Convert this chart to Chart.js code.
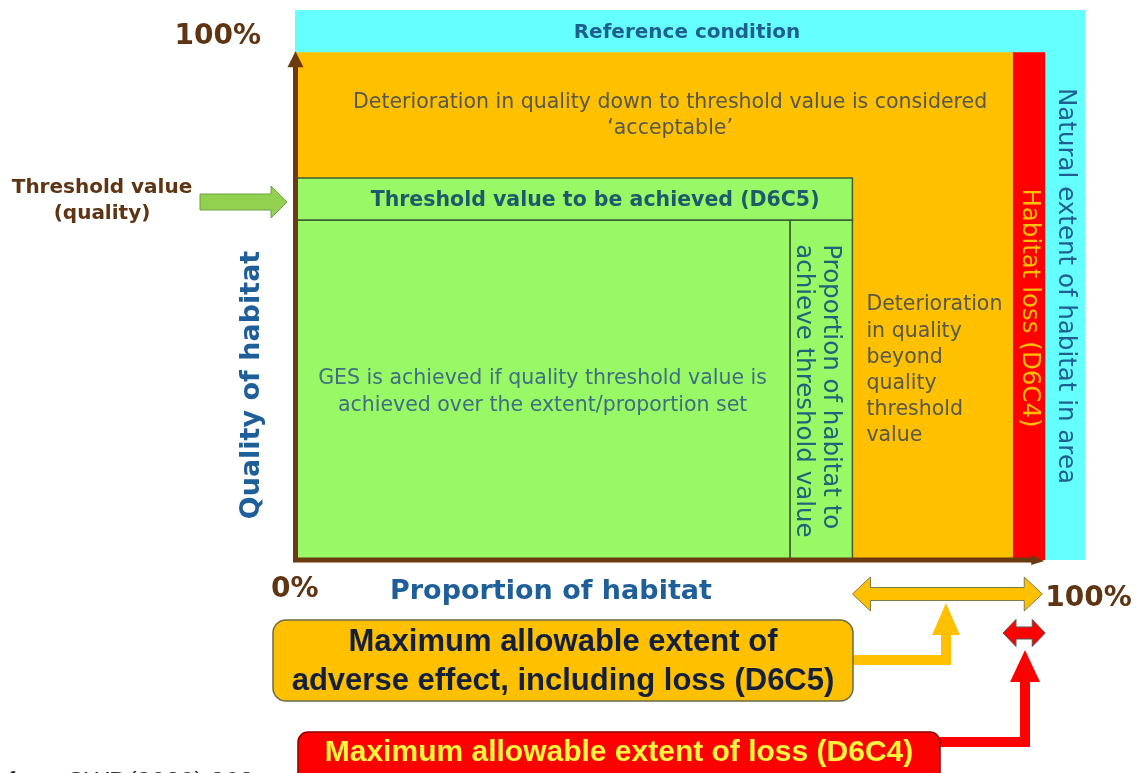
<!DOCTYPE html>
<html>
<head>
<meta charset="utf-8">
<script src="https://cdn.jsdelivr.net/npm/chart.js@4.4.0/dist/chart.umd.min.js"></script>
<style>
  html, body { margin: 0; padding: 0; background: #fff; }
  canvas { display: block; }
</style>
</head>
<body>
<canvas id="habitatChart" width="1144" height="773"></canvas>
<script>
// Habitat quality (y, %) against proportion of habitat (x, %)

const regionNames = ["Reference condition", "Acceptable deterioration", "Habitat loss", "Threshold band", "GES achieved", "Proportion to achieve threshold"];
const regionXFrom = [0, 0, 95.7, 0, 0, 66];
const regionXTo = [105.3, 95.7, 100, 74.3, 66, 74.3];
const regionYFrom = [0, 0, 0, 66.9, 0, 0];
const regionYTo = [108.3, 100, 100, 75.2, 66.9, 66.9];

const axisTicks = ["0%", "100%"];
const qualityThreshold = 66.9;
const thresholdBandTop = 75.2;
const proportionThreshold = 66;
const adverseExtentFrom = 74.3;
const lossExtentFrom = 95.7;
const habitatMax = 100;

// styles
const regionFill = ["#66FFFF", "#FFC000", "#FF0000", "#99F865", "#99F865", "#99F865"];
const regionBorder = [0, 0, 0, 1.5, 1.5, 1.5];

const DV = "'DejaVu Sans', Verdana, sans-serif";
const AR = "'Liberation Sans', Arial, sans-serif";
const BROWN = "#5E3412";
const BLUE = "#1F5F99";
const GREY = "#57574a";

const datasets = regionNames.map((name, i) => ({
  label: name,
  data: [
    { x: regionXFrom[i], y: regionYFrom[i] },
    { x: regionXFrom[i], y: regionYTo[i] },
    { x: regionXTo[i], y: regionYTo[i] },
    { x: regionXTo[i], y: regionYFrom[i] },
    { x: regionXFrom[i], y: regionYFrom[i] }
  ],
  showLine: true,
  fill: "shape",
  backgroundColor: regionFill[i],
  borderColor: "#3f5f35",
  borderWidth: regionBorder[i],
  pointRadius: 0,
  tension: 0,
  order: regionNames.length - i
}));

function text(ctx, s, x, y, font, color, align, angle) {
  ctx.save();
  ctx.translate(x, y);
  if (angle) ctx.rotate(angle);
  ctx.font = font;
  ctx.fillStyle = color;
  ctx.textAlign = align || "center";
  ctx.textBaseline = "middle";
  ctx.fillText(s, 0, 0);
  ctx.restore();
}

function poly(ctx, pts, fill, stroke, lw) {
  ctx.beginPath();
  pts.forEach((p, i) => i ? ctx.lineTo(p[0], p[1]) : ctx.moveTo(p[0], p[1]));
  ctx.closePath();
  ctx.fillStyle = fill;
  ctx.fill();
  if (stroke) {
    ctx.strokeStyle = stroke;
    ctx.lineWidth = lw || 1;
    ctx.stroke();
  }
}

function doubleArrow(ctx, x1, x2, y, shaft, head, len, fill, stroke) {
  const s = shaft / 2, h = head / 2;
  poly(ctx, [
    [x1, y], [x1 + len, y - h], [x1 + len, y - s], [x2 - len, y - s], [x2 - len, y - h],
    [x2, y], [x2 - len, y + h], [x2 - len, y + s], [x1 + len, y + s], [x1 + len, y + h]
  ], fill, stroke, 1);
}

function roundBox(ctx, x, y, w, h, r, fill, stroke) {
  ctx.beginPath();
  ctx.roundRect(x, y, w, h, r);
  ctx.fillStyle = fill;
  ctx.fill();
  ctx.strokeStyle = stroke;
  ctx.lineWidth = 1.5;
  ctx.stroke();
}

const diagramText = {
  id: "diagramText",
  afterDatasetsDraw(chart) {
    const ctx = chart.ctx;
    const px = v => chart.scales.x.getPixelForValue(v);
    const py = v => chart.scales.y.getPixelForValue(v);
    const x0 = px(0), y0 = py(0);

    // axes
    ctx.save();
    ctx.strokeStyle = "#6B3A10";
    ctx.lineWidth = 5;
    ctx.beginPath();
    ctx.moveTo(x0 + 0.5, y0 + 2);
    ctx.lineTo(x0 + 0.5, py(habitatMax) + 14);
    ctx.moveTo(x0 - 2, y0);
    ctx.lineTo(px(habitatMax) - 12, y0);
    ctx.stroke();
    poly(ctx, [[x0 + 0.5, py(habitatMax) - 1], [x0 + 8.5, py(habitatMax) + 15], [x0 - 7.5, py(habitatMax) + 15]], "#6B3A10");
    poly(ctx, [[px(habitatMax) - 1, y0 + 1], [px(habitatMax) - 14, y0 - 5], [px(habitatMax) - 14, y0 + 5]], "#6B3A10");
    ctx.restore();

    // labels inside regions
    text(ctx, regionNames[0], px(regionXTo[0] / 2) - 3, py((habitatMax + regionYTo[0]) / 2) + 2, "bold 20px " + DV, "#1F5F8F");
    text(ctx, "Deterioration in quality down to threshold value is considered", px(50), 103, "20.5px " + DV, GREY);
    text(ctx, "\u2018acceptable\u2019", px(50), 129, "20.5px " + DV, GREY);
    text(ctx, "Threshold value to be achieved (D6C5)", px(40), py((qualityThreshold + thresholdBandTop) / 2) + 1, "bold 20.5px " + DV, "#1D5A6C");
    text(ctx, "GES is achieved if quality threshold value is", px(33), 379, "20.5px " + DV, "#3F6F80");
    text(ctx, "achieved over the extent/proportion set", px(33), 406, "20.5px " + DV, "#3F6F80");

    const colX = px(adverseExtentFrom) - 22;
    const colY = py(qualityThreshold) + 24;
    text(ctx, "Proportion of habitat to", colX, colY, "24.5px " + DV, "#1D6478", "left", Math.PI / 2);
    text(ctx, "achieve threshold value", colX - 27, colY, "24.5px " + DV, "#1D6478", "left", Math.PI / 2);

    ["Deterioration", "in quality", "beyond", "quality", "threshold", "value"].forEach((s, i) => {
      text(ctx, s, px(adverseExtentFrom) + 14, 305 + i * 26.2, "20.5px " + DV, GREY, "left");
    });

    text(ctx, "Habitat loss (D6C4)", px((lossExtentFrom + habitatMax) / 2), 308, "24.5px " + DV, "#FFC000", "center", Math.PI / 2);
    text(ctx, "Natural extent of habitat in area", px((habitatMax + regionXTo[0]) / 2), 286, "24.5px " + DV, "#1F5F8F", "center", Math.PI / 2);

    // outer labels
    text(ctx, axisTicks[1], 261, 37, "bold 28px " + DV, BROWN, "right");
    text(ctx, axisTicks[0], 271, 590, "bold 28px " + DV, BROWN, "left");
    text(ctx, axisTicks[1], px(habitatMax), 599, "bold 28px " + DV, BROWN, "left");
    text(ctx, "Proportion of habitat", 390, 592, "bold 27px " + DV, BLUE, "left");
    text(ctx, "Quality of habitat", 252, 385, "bold 27px " + DV, BLUE, "center", -Math.PI / 2);
    text(ctx, "Threshold value", 102, 188, "bold 20px " + DV, BROWN);
    text(ctx, "(quality)", 102, 214, "bold 20px " + DV, BROWN);

    // threshold arrow
    const ay = 202;
    poly(ctx, [[200, ay - 8], [271, ay - 8], [271, ay - 16], [287, ay], [271, ay + 16], [271, ay + 8], [200, ay + 8]], "#92D050", "#6E9E45", 1);

    // extent arrows under the x axis
    doubleArrow(ctx, px(adverseExtentFrom), px(habitatMax) - 3, 594, 13, 34, 18, "#FFC000", "#7F7A4A");
    doubleArrow(ctx, px(lossExtentFrom) - 10, px(habitatMax), 633, 12, 27, 13, "#FF0000", "#555555");

    // connectors
    ctx.save();
    ctx.lineJoin = "miter";
    ctx.lineWidth = 10;
    ctx.strokeStyle = "#FFC000";
    ctx.beginPath();
    ctx.moveTo(850, 660);
    ctx.lineTo(946, 660);
    ctx.lineTo(946, 632);
    ctx.stroke();
    poly(ctx, [[946, 603], [960, 635], [932, 635]], "#FFC000");
    ctx.strokeStyle = "#FF0000";
    ctx.beginPath();
    ctx.moveTo(935, 742);
    ctx.lineTo(1025, 742);
    ctx.lineTo(1025, 680);
    ctx.stroke();
    poly(ctx, [[1025, 650], [1040, 682], [1010, 682]], "#FF0000");
    ctx.restore();

    // callout boxes
    roundBox(ctx, 273, 620, 580, 81, 13, "#FFC000", "#6B6B4B");
    text(ctx, "Maximum allowable extent of", 563, 642, "bold 31px " + AR, "#14203A");
    text(ctx, "adverse effect, including loss (D6C5)", 563, 681, "bold 31px " + AR, "#14203A");
    roundBox(ctx, 298, 732, 642, 60, 10, "#FF0000", "#8B0000");
    text(ctx, "Maximum allowable extent of loss (D6C4)", 619, 753, "bold 30px " + AR, "#FFF53D");

    ctx.save();
    ctx.font = "26px " + AR;
    ctx.fillStyle = "#333333";
    ctx.textBaseline = "top";
    ctx.fillText("from SWD(2020) 362", 8, 770);
    ctx.restore();
  }
};

new Chart("habitatChart", {
  type: "scatter",
  data: { datasets: datasets },
  options: {
    responsive: false,
    animation: false,
    layout: { padding: { left: 295, right: 59, top: 10, bottom: 213 } },
    scales: {
      x: { type: "linear", min: 0, max: regionXTo[0], display: false },
      y: { type: "linear", min: 0, max: regionYTo[0], display: false }
    },
    plugins: {
      legend: { display: false },
      tooltip: { enabled: false }
    }
  },
  plugins: [diagramText]
});
</script>
</body>
</html>
